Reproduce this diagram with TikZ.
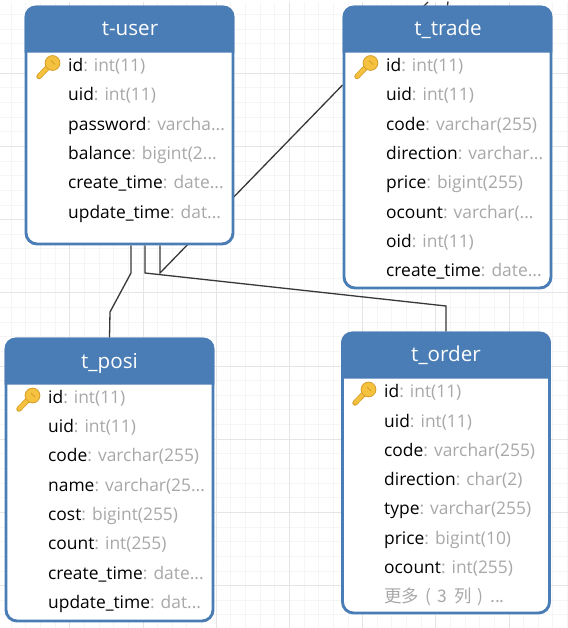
\documentclass[tikz,border=0pt]{standalone}
\usepackage{fontspec}
\setmainfont{Open Sans}
\newfontfamily\cjkfont{Noto Sans CJK SC}
\usetikzlibrary{positioning,backgrounds}
\definecolor{colorhead}{rgb}{0.29, 0.49, 0.71}
\definecolor{colortype}{rgb}{0.66, 0.66, 0.66}
\definecolor{colorline}{rgb}{0.22, 0.22, 0.22}
\definecolor{colorgrid}{rgb}{0.96, 0.96, 0.96}
\definecolor{colormajor}{rgb}{0.90, 0.90, 0.90}
\definecolor{colorkey}{rgb}{0.96, 0.76, 0.25}
\definecolor{colorkeyedge}{rgb}{0.84, 0.62, 0.16}
\tikzset{table/.style={rectangle, rounded corners=11pt, draw=colorhead, line width=2.9pt, fill=white, inner sep=0pt, minimum width=207pt}}
\tikzset{field/.style={anchor=base west, inner sep=0pt, font=\fontsize{17.4}{19}\selectfont}}
\tikzset{title/.style={anchor=base, inner sep=0pt, text=white, font=\fontsize{20.6}{22}\selectfont}}
\tikzset{rel/.style={draw=colorline, line width=1.3pt}}
\newcommand{\styletype}[1]{\textcolor{colortype}{#1}}
% header band of a table, drawn over the box
\newcommand{\headband}[1]{\fill[colorhead] ([yshift=-47pt]#1.north west) [rounded corners=11pt] -- (#1.north west) -- (#1.north east) [sharp corners] -- ([yshift=-47pt]#1.north east) -- cycle;}
\newcommand{\keyicon}[2]{\begin{scope}[shift={(#1,#2)}]
	\draw[colorkeyedge, line width=5.4pt, line cap=round] (-9,9.5) -- (3,-3);
	\draw[colorkey, line width=3.8pt, line cap=round] (-9,9.5) -- (3,-3);
	\fill[colorkey, draw=colorkeyedge, line width=0.8pt] (4.5,-4) circle (7.4pt);
	\draw[colorkeyedge, line width=0.9pt] (3,-6.5) -- (7,-2.5);
\end{scope}}
\begin{document}
\begin{tikzpicture}[x=1pt, y=-1pt]
		\useasboundingbox (0, 0) rectangle (567, 628);
		
		\node[table, minimum height=237pt] at (129.5, 125.5) (user) {};
		\node[table, minimum height=281pt] at (447.5, 147.5) (trade) {};
		\node[table, minimum height=282pt] at (109.5, 480) (posi) {};
		\node[table, minimum height=280pt] at (446, 473) (order) {};
		
		\coordinate (b1) at (131, 273);
		\coordinate (b2) at (110, 312);
		\coordinate (c1) at (145, 273);
		\coordinate (c2) at (446, 306);
		\coordinate (d1) at (160, 273);
		\coordinate (e1) at (448, 1.5);
		\coordinate (f1) at (428, 2);
		\coordinate (f2) at (423, 7);
		
		\begin{scope}[on background layer]
		\fill[white] (0, 0) rectangle (567, 628);
		\draw[colorgrid, line width=0.9pt, xshift=-3.4pt, step=14.64pt] (0, 2) grid (575, 628);
		\draw[colormajor, line width=0.9pt, xshift=-3.4pt, step=73.2pt] (0, 2) grid (575, 628);
		\path[rel] ([xshift=1.5pt]user.south) -- (b1) -- (b2) -- (posi.north);
		\path[rel] ([xshift=15.5pt]user.south) -- (c1) -- (c2) -- (order.north);
		\path[rel] ([xshift=30.5pt]user.south) -- (d1) -- ([yshift=62.5pt]trade.west);
		\path[rel] (e1) -- (trade.north);
		\path[rel] (f1) -- (f2);
		\end{scope}
		
		\headband{user}
		\headband{trade}
		\headband{posi}
		\headband{order}
		
		\node[title] at (130, 35.7) (tuser) {t-user};
		\node[title] at (448, 35.7) (ttrade) {t\_trade};
		\node[title] at (109.5, 368.3) (tposi) {t\_posi};
		\node[title] at (446, 361.7) (torder) {t\_order};
		
		\keyicon{48}{67}
		\keyicon{366}{67}
		\keyicon{28}{399.5}
		\keyicon{364}{393.5}
		
		\node[field] at (68, 71.7) (u1) {id\styletype{: int(11)}};
		\node[field] at (68, 101) (u2) {uid\styletype{: int(11)}};
		\node[field] at (68, 130.3) (u3) {password\styletype{: varcha...}};
		\node[field] at (68, 159.6) (u4) {balance\styletype{: bigint(2...}};
		\node[field] at (68, 188.9) (u5) {create\_time\styletype{: date...}};
		\node[field] at (68, 218.2) (u6) {update\_time\styletype{: dat...}};
		
		\node[field] at (386, 71.7) (t1) {id\styletype{: int(11)}};
		\node[field] at (386, 101) (t2) {uid\styletype{: int(11)}};
		\node[field] at (386, 130.3) (t3) {code\styletype{: varchar(255)}};
		\node[field] at (386, 159.6) (t4) {direction\styletype{: varchar...}};
		\node[field] at (386, 188.9) (t5) {price\styletype{: bigint(255)}};
		\node[field] at (386, 218.2) (t6) {ocount\styletype{: varchar(...}};
		\node[field] at (386, 247.5) (t7) {oid\styletype{: int(11)}};
		\node[field] at (386, 276.8) (t8) {create\_time\styletype{: date...}};
		
		\node[field] at (48, 403.3) (p1) {id\styletype{: int(11)}};
		\node[field] at (48, 432.6) (p2) {uid\styletype{: int(11)}};
		\node[field] at (48, 461.9) (p3) {code\styletype{: varchar(255)}};
		\node[field] at (48, 491.2) (p4) {name\styletype{: varchar(25...}};
		\node[field] at (48, 520.5) (p5) {cost\styletype{: bigint(255)}};
		\node[field] at (48, 549.8) (p6) {count\styletype{: int(255)}};
		\node[field] at (48, 579.1) (p7) {create\_time\styletype{: date...}};
		\node[field] at (48, 608.4) (p8) {update\_time\styletype{: dat...}};
		
		\node[field] at (384, 397.7) (o1) {id\styletype{: int(11)}};
		\node[field] at (384, 427) (o2) {uid\styletype{: int(11)}};
		\node[field] at (384, 456.3) (o3) {code\styletype{: varchar(255)}};
		\node[field] at (384, 485.6) (o4) {direction\styletype{: char(2)}};
		\node[field] at (384, 514.9) (o5) {type\styletype{: varchar(255)}};
		\node[field] at (384, 544.2) (o6) {price\styletype{: bigint(10)}};
		\node[field] at (384, 573.5) (o7) {ocount\styletype{: int(255)}};
		\node[field] at (384, 602.8) (o8) {\styletype{\cjkfont\spaceskip=6.5pt 更多 ( 3 列 ) ...}};
		
		\end{tikzpicture}
\end{document}
